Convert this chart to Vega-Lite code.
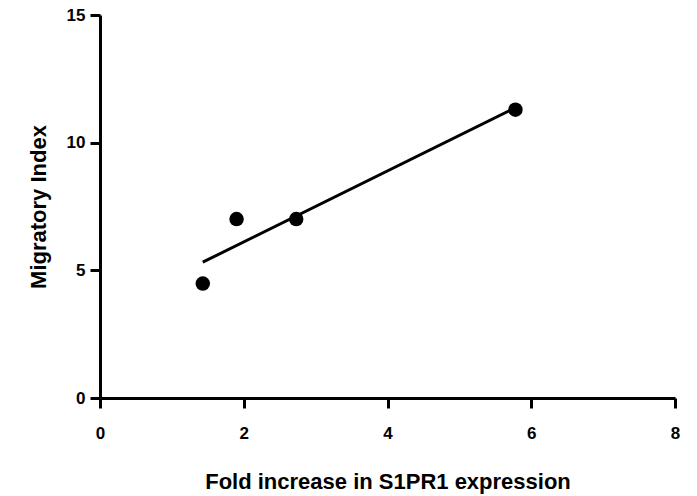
{
  "$schema": "https://vega.github.io/schema/vega-lite/v6.json",
  "autosize": {"type": "none"},
  "width": 575,
  "height": 383,
  "padding": {"left": 100, "top": 15, "right": 22, "bottom": 98},
  "background": "white",
  "config": {
    "view": {"stroke": null},
    "axis": {
      "domainColor": "black",
      "domainWidth": 3,
      "tickColor": "black",
      "tickWidth": 3,
      "tickSize": 10,
      "grid": false,
      "labelFont": "Liberation Sans",
      "labelFontWeight": "bold",
      "labelFontSize": 17,
      "labelColor": "black",
      "titleFont": "Liberation Sans",
      "titleFontWeight": "bold",
      "titleFontSize": 22,
      "titleColor": "black"
    }
  },
  "datasets": {
    "pts": [
      {"fold": 1.43, "index": 4.48},
      {"fold": 1.90, "index": 7.01},
      {"fold": 2.73, "index": 7.01},
      {"fold": 5.78, "index": 11.29}
    ],
    "fit": [
      {"fold": 1.43, "index": 5.32},
      {"fold": 5.78, "index": 11.37}
    ]
  },
  "layer": [
    {
      "data": {"name": "fit"},
      "mark": {"type": "line", "color": "black", "strokeWidth": 3},
      "encoding": {
        "x": {"field": "fold", "type": "quantitative"},
        "y": {"field": "index", "type": "quantitative"}
      }
    },
    {
      "data": {"name": "pts"},
      "mark": {"type": "point", "filled": true, "color": "black", "opacity": 1, "size": 210},
      "encoding": {
        "x": {
          "field": "fold", "type": "quantitative",
          "scale": {"domain": [0, 8], "nice": false, "zero": true},
          "axis": {"values": [0, 2, 4, 6, 8], "format": "d", "labelPadding": 17, "title": "Fold increase in S1PR1 expression", "titlePadding": 30, "labelFlush": false}
        },
        "y": {
          "field": "index", "type": "quantitative",
          "scale": {"domain": [0, 15], "nice": false},
          "axis": {"values": [0, 5, 10, 15], "format": "d", "labelPadding": 5, "title": "Migratory Index", "titlePadding": 16, "labelFlush": false}
        }
      }
    }
  ]
}
